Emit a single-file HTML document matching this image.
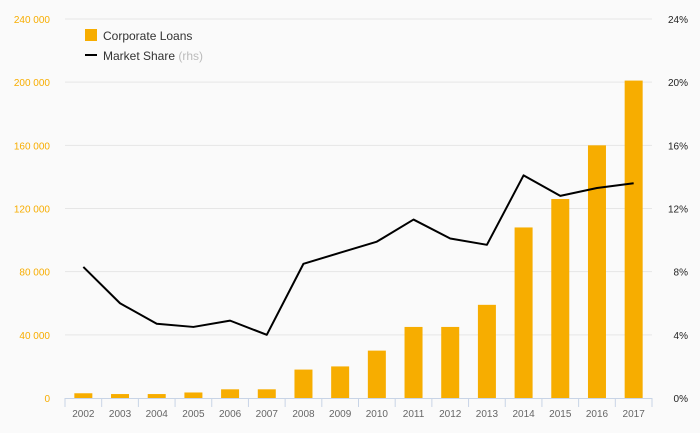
<!DOCTYPE html>
<html><head><meta charset="utf-8"><style>
body{margin:0;background:#fafafa;}
svg{display:block;font-family:"Liberation Sans",sans-serif;}
</style></head><body>
<svg id="c" width="700" height="433">
<rect width="700" height="433" fill="#fafafa"/>
<g id="grid"></g><g id="bars"></g><g id="line"></g><g id="axes"></g>
<g>
<rect x="85" y="29" width="12" height="12" fill="#f7ad00"/>
<text x="103" y="40" font-size="12" fill="#333">Corporate Loans</text>
<line x1="85" y1="55" x2="97" y2="55" stroke="#000" stroke-width="2"/>
<text x="103" y="60" font-size="12" fill="#333">Market Share <tspan fill="#bbb">(rhs)</tspan></text>
</g>
</svg>
<script>
const years=["2002","2003","2004","2005","2006","2007","2008","2009","2010","2011","2012","2013","2014","2015","2016","2017"];
const loans=[3000,2500,2500,3500,5500,5500,18000,20000,30000,45000,45000,59000,108000,126000,160000,201000];
const share=[8.3,6.0,4.7,4.5,4.9,4.0,8.5,9.2,9.9,11.3,10.1,9.7,14.1,12.8,13.3,13.6];
const leftTicks=[0,40000,80000,120000,160000,200000,240000];
const rightTicks=[0,4,8,12,16,20,24];
const NS="http://www.w3.org/2000/svg";
const x0=65,x1=652,yB=398,yT=19;
const step=(x1-x0)/years.length;
const xc=i=>x0+step*(i+0.5);
const yL=v=>yB-(v/240000)*(yB-yT);
const yR=v=>yB-(v/24)*(yB-yT);
function el(t,a,p){const e=document.createElementNS(NS,t);for(const k in a)e.setAttribute(k,a[k]);document.getElementById(p).appendChild(e);return e;}
const fmt=v=>v===0?"0":String(v).replace(/\B(?=(\d{3})+(?!\d))/g," ");
leftTicks.forEach((v,i)=>{
 if(v>0){const g=el('line',{x1:x0,x2:x1,y1:yL(v),y2:yL(v),stroke:'#e6e6e6','stroke-width':1},'grid');
 
 }
 const t=el('text',{x:50,y:yL(v)+4,'text-anchor':'end','font-size':10,fill:'#f7ad00'},'axes');t.textContent=fmt(v);
 
 
});
rightTicks.forEach(v=>{
 const t=el('text',{x:688,y:yR(v)+4,'text-anchor':'end','font-size':10,fill:'#222'},'axes');t.textContent=v+'%';
 
 
});
loans.forEach((v,i)=>{
 const b=el('rect',{x:xc(i)-9,y:yL(v),width:18,height:yB-yL(v),fill:'#f7ad00'},'bars');
 
 
});
const p=el('polyline',{points:share.map((v,i)=>xc(i)+','+yR(v)).join(' '),fill:'none',stroke:'#000','stroke-width':2,'stroke-linejoin':'round'},'line');


const ax=el('line',{x1:x0,x2:x1,y1:yB+0.5,y2:yB+0.5,stroke:'#c8d4e6','stroke-width':1},'axes');


for(let i=0;i<=years.length;i++){
 const tk=el('line',{x1:x0+step*i,x2:x0+step*i,y1:yB,y2:yB+9,stroke:'#c8d4e6','stroke-width':1},'axes');
 
 
}
years.forEach((y,i)=>{
 const t=el('text',{x:xc(i),y:417,'text-anchor':'middle','font-size':10,fill:'#666'},'axes');t.textContent=y;
 
 
});
</script>
</body></html>
